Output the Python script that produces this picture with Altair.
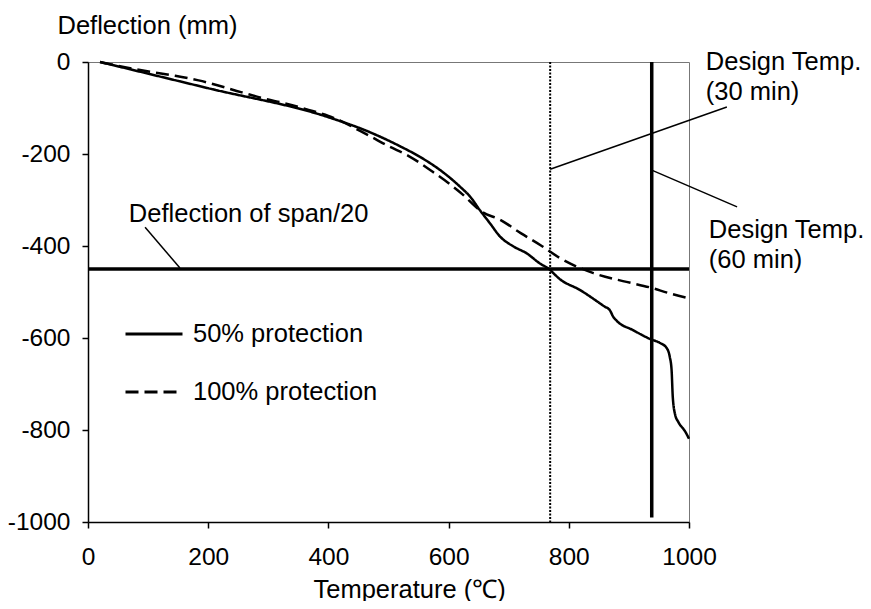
import altair as alt
import pandas as pd

FONT = "Liberation Sans"

# 50% protection (solid)
t50 = [20, 200, 400, 466, 519, 552, 586, 619, 636, 652, 669, 686, 708, 730, 752, 766, 785,
       819, 860, 868, 874, 880, 907, 935, 952, 963, 968, 971, 973, 977, 982, 994, 1000]
d50 = [0, -57, -120, -151, -183, -206, -235, -271, -293, -322, -351, -380, -401, -416, -438, -449, -472,
       -496, -532, -539, -554, -563, -583, -602, -611, -622, -641, -669, -728, -767, -782, -804, -819]

# 100% protection (dashed)
t100 = [20, 106, 145, 184, 256, 295, 328, 367, 400, 466, 500, 533, 574, 619, 656, 686, 720,
        755, 785, 841, 896, 935, 968, 1000]
d100 = [0, -22, -30, -40, -66, -80, -90, -104, -117, -159, -183, -204, -239, -283, -326, -343, -372,
        -400, -426, -459, -478, -490, -503, -514]

series_names = ["50% protection", "100% protection"]

span_limit = -450
design_30 = 769
design_60 = 938
design_60_bottom = -990

# annotation labels
ann_text = ["Deflection of span/20", "Design Temp.", "(30 min)", "Design Temp.", "(60 min)"]
ann_t = [68, 1028, 1028, 1033, 1033]
ann_d = [-348, -17, -83, -383, -448]

# leader lines
lead_t1 = [95, 769, 938]
lead_d1 = [-359, -233, -235]
lead_t2 = [153, 1063, 1080]
lead_d2 = [-448, -98, -315]

df = pd.concat([
    pd.DataFrame({"T": t50, "D": d50, "series": series_names[0], "order": range(len(t50))}),
    pd.DataFrame({"T": t100, "D": d100, "series": series_names[1], "order": range(len(t100))}),
])

xscale = alt.Scale(domain=[0, 1000], nice=False)
yscale = alt.Scale(domain=[-1000, 0], nice=False)

xaxis = alt.Axis(values=[0, 200, 400, 600, 800, 1000], title="Temperature (\u2103)",
                 labelExpr="'' + datum.value", labelFlush=False,
                 titleAlign="left", titleX=225, titleY=75, titleBaseline="alphabetic",
                 labelPadding=17, grid=False)
yaxis = alt.Axis(values=[-1000, -800, -600, -400, -200, 0], title="Deflection (mm)",
                 labelExpr="'' + datum.value",
                 titleAngle=0, titleAlign="left", titleBaseline="alphabetic",
                 titleX=-31, titleY=-29, labelPadding=12, grid=False)

lines = alt.Chart(df).mark_line(color="black", strokeWidth=2.5, interpolate="monotone").encode(
    x=alt.X("T:Q", scale=xscale, axis=xaxis),
    y=alt.Y("D:Q", scale=yscale, axis=yaxis),
    order="order:Q",
    strokeDash=alt.StrokeDash(
        "series:N",
        scale=alt.Scale(domain=series_names, range=[[1, 0], [13, 6]]),
        legend=alt.Legend(
            title=None, orient="none", legendX=36, legendY=242, padding=0,
            symbolType="stroke", symbolSize=3249, symbolStrokeWidth=3,
            symbolStrokeColor="black", labelFont=FONT, labelFontSize=25.5,
            labelColor="black", labelOffset=9, rowPadding=14, labelLimit=400,
            labelExpr="(indexof(datum.label, '50%') == 0 ? '\u2009\u2009' : '') + datum.label",
        ),
    ),
)

hrule = alt.Chart(pd.DataFrame({"D": [span_limit]})).mark_rule(color="black", strokeWidth=3.5).encode(
    y=alt.Y("D:Q", scale=yscale)
)

dotted = alt.Chart(pd.DataFrame({"T": [design_30], "y1": [0], "y2": [-1000]})).mark_rule(
    color="black", strokeWidth=2, strokeDash=[2, 1.5]
).encode(x=alt.X("T:Q", scale=xscale), y=alt.Y("y1:Q", scale=yscale), y2="y2:Q")

thick = alt.Chart(pd.DataFrame({"T": [design_60], "y1": [0], "y2": [design_60_bottom]})).mark_rule(
    color="black", strokeWidth=3.5
).encode(x=alt.X("T:Q", scale=xscale), y=alt.Y("y1:Q", scale=yscale), y2="y2:Q")

leaders = alt.Chart(pd.DataFrame({"t1": lead_t1, "d1": lead_d1, "t2": lead_t2, "d2": lead_d2})).mark_rule(
    color="black", strokeWidth=1.5
).encode(x=alt.X("t1:Q", scale=xscale), y=alt.Y("d1:Q", scale=yscale), x2="t2:Q", y2="d2:Q")

texts = alt.Chart(pd.DataFrame({"text": ann_text, "T": ann_t, "D": ann_d})).mark_text(
    align="left", baseline="alphabetic", font=FONT, fontSize=25.5, color="black"
).encode(x=alt.X("T:Q", scale=xscale), y=alt.Y("D:Q", scale=yscale), text="text:N")

chart = alt.layer(lines, hrule, dotted, thick, leaders, texts).properties(
    width=601, height=460,
    autosize=alt.AutoSizeParams(type="none"),
    padding={"left": 80, "top": 54, "right": 174, "bottom": 79},
    background="white",
).configure_view(
    stroke="#777777", strokeWidth=1
).configure_axis(
    domainColor="black", domainWidth=1.5, tickColor="black", tickWidth=1.5, tickSize=6,
    labelFont=FONT, labelFontSize=24.5, labelColor="black",
    titleFont=FONT, titleFontSize=25.5, titleColor="black", titleFontWeight="normal",
)

chart.save("out.html", embed_options={"renderer": "svg", "actions": False})
